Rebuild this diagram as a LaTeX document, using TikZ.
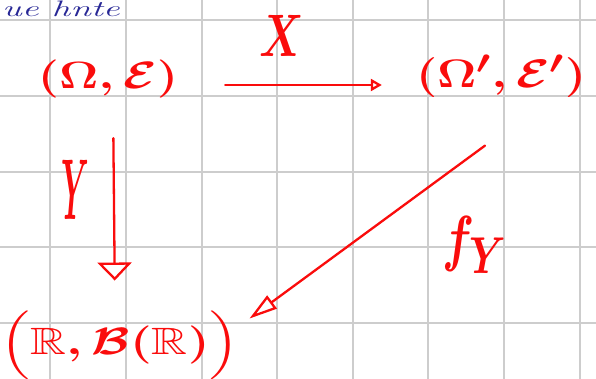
\documentclass[tikz,border=0pt]{standalone}
\usepackage{amsmath,amssymb}
\usetikzlibrary{arrows.meta}
\definecolor{pen}{RGB}{250,12,12}
\definecolor{ink}{RGB}{40,40,150}
\definecolor{gridc}{RGB}{205,205,205}
\tikzset{
  gridline/.style={draw=gridc, line width=2pt},
  obj/.style={text=pen, inner sep=2pt, font=\Huge\boldmath},
  lbl/.style={text=pen, inner sep=1pt, font=\Huge\boldmath},
  penline/.style={draw=pen, line width=2.3pt, line cap=round, line join=round},
}
\begin{document}
\begin{tikzpicture}[x=1pt,y=-1pt]
\useasboundingbox (0,0) rectangle (596,379);
\fill[white] (0,0) rectangle (596,379);
\foreach \k in {0,...,7} \draw[gridline] ({50.3+75.6*\k},0) -- ({50.3+75.6*\k},379);
\foreach \k in {0,...,4} \draw[gridline] (0,{20.5+75.6*\k}) -- (596,{20.5+75.6*\k});
% blue handwriting at the top
\node[anchor=base west, text=ink, inner sep=0pt, font=\Huge\itshape] (top) at (2,17) {\scalebox{1.5}[0.9]{ue hnte}};
% objects
\node[obj] (A) at (108,79) {\scalebox{1.95}[1.53]{$(\Omega,\mathcal{E})$}};
\node[obj] (B) at (501,76) {\scalebox{1.95}[1.6]{$(\Omega',\mathcal{E}')$}};
\node[obj] (C) at (120,345) {\scalebox{2.0}[1.53]{$\Bigl(\mathbb{R},\mathcal{B}(\mathbb{R})\Bigr)$}};
% labels
\node[lbl] (lx) at (282,36) {\scalebox{1.75}[2.41]{$X$}};
\node[lbl] (ly) at (75,190) {\scalebox{1.2}[3.47]{$Y$}};
\node[lbl] (lf) at (475,245) {\scalebox{1.9}[2.5]{$f_Y$}};
% arrows
\draw[penline, -{Triangle[open, length=11pt, width=12pt, line width=2.3pt]}, shorten <=45pt, shorten >=32pt] (A.east |- 0,85) -- (B.west |- 0,85);
\draw[penline, -{Triangle[open, length=18pt, width=34pt, line width=2.3pt]}, shorten <=38pt, shorten >=28pt] ([xshift=5pt]A.south) -- ([xshift=-5pt]C.north);
\draw[penline, -{Triangle[open, length=28pt, width=16pt, line width=2.3pt]}] ([xshift=-16pt,yshift=-46pt]B.south) -- ([xshift=8pt,yshift=-10pt]C.north east);
\end{tikzpicture}
\end{document}
